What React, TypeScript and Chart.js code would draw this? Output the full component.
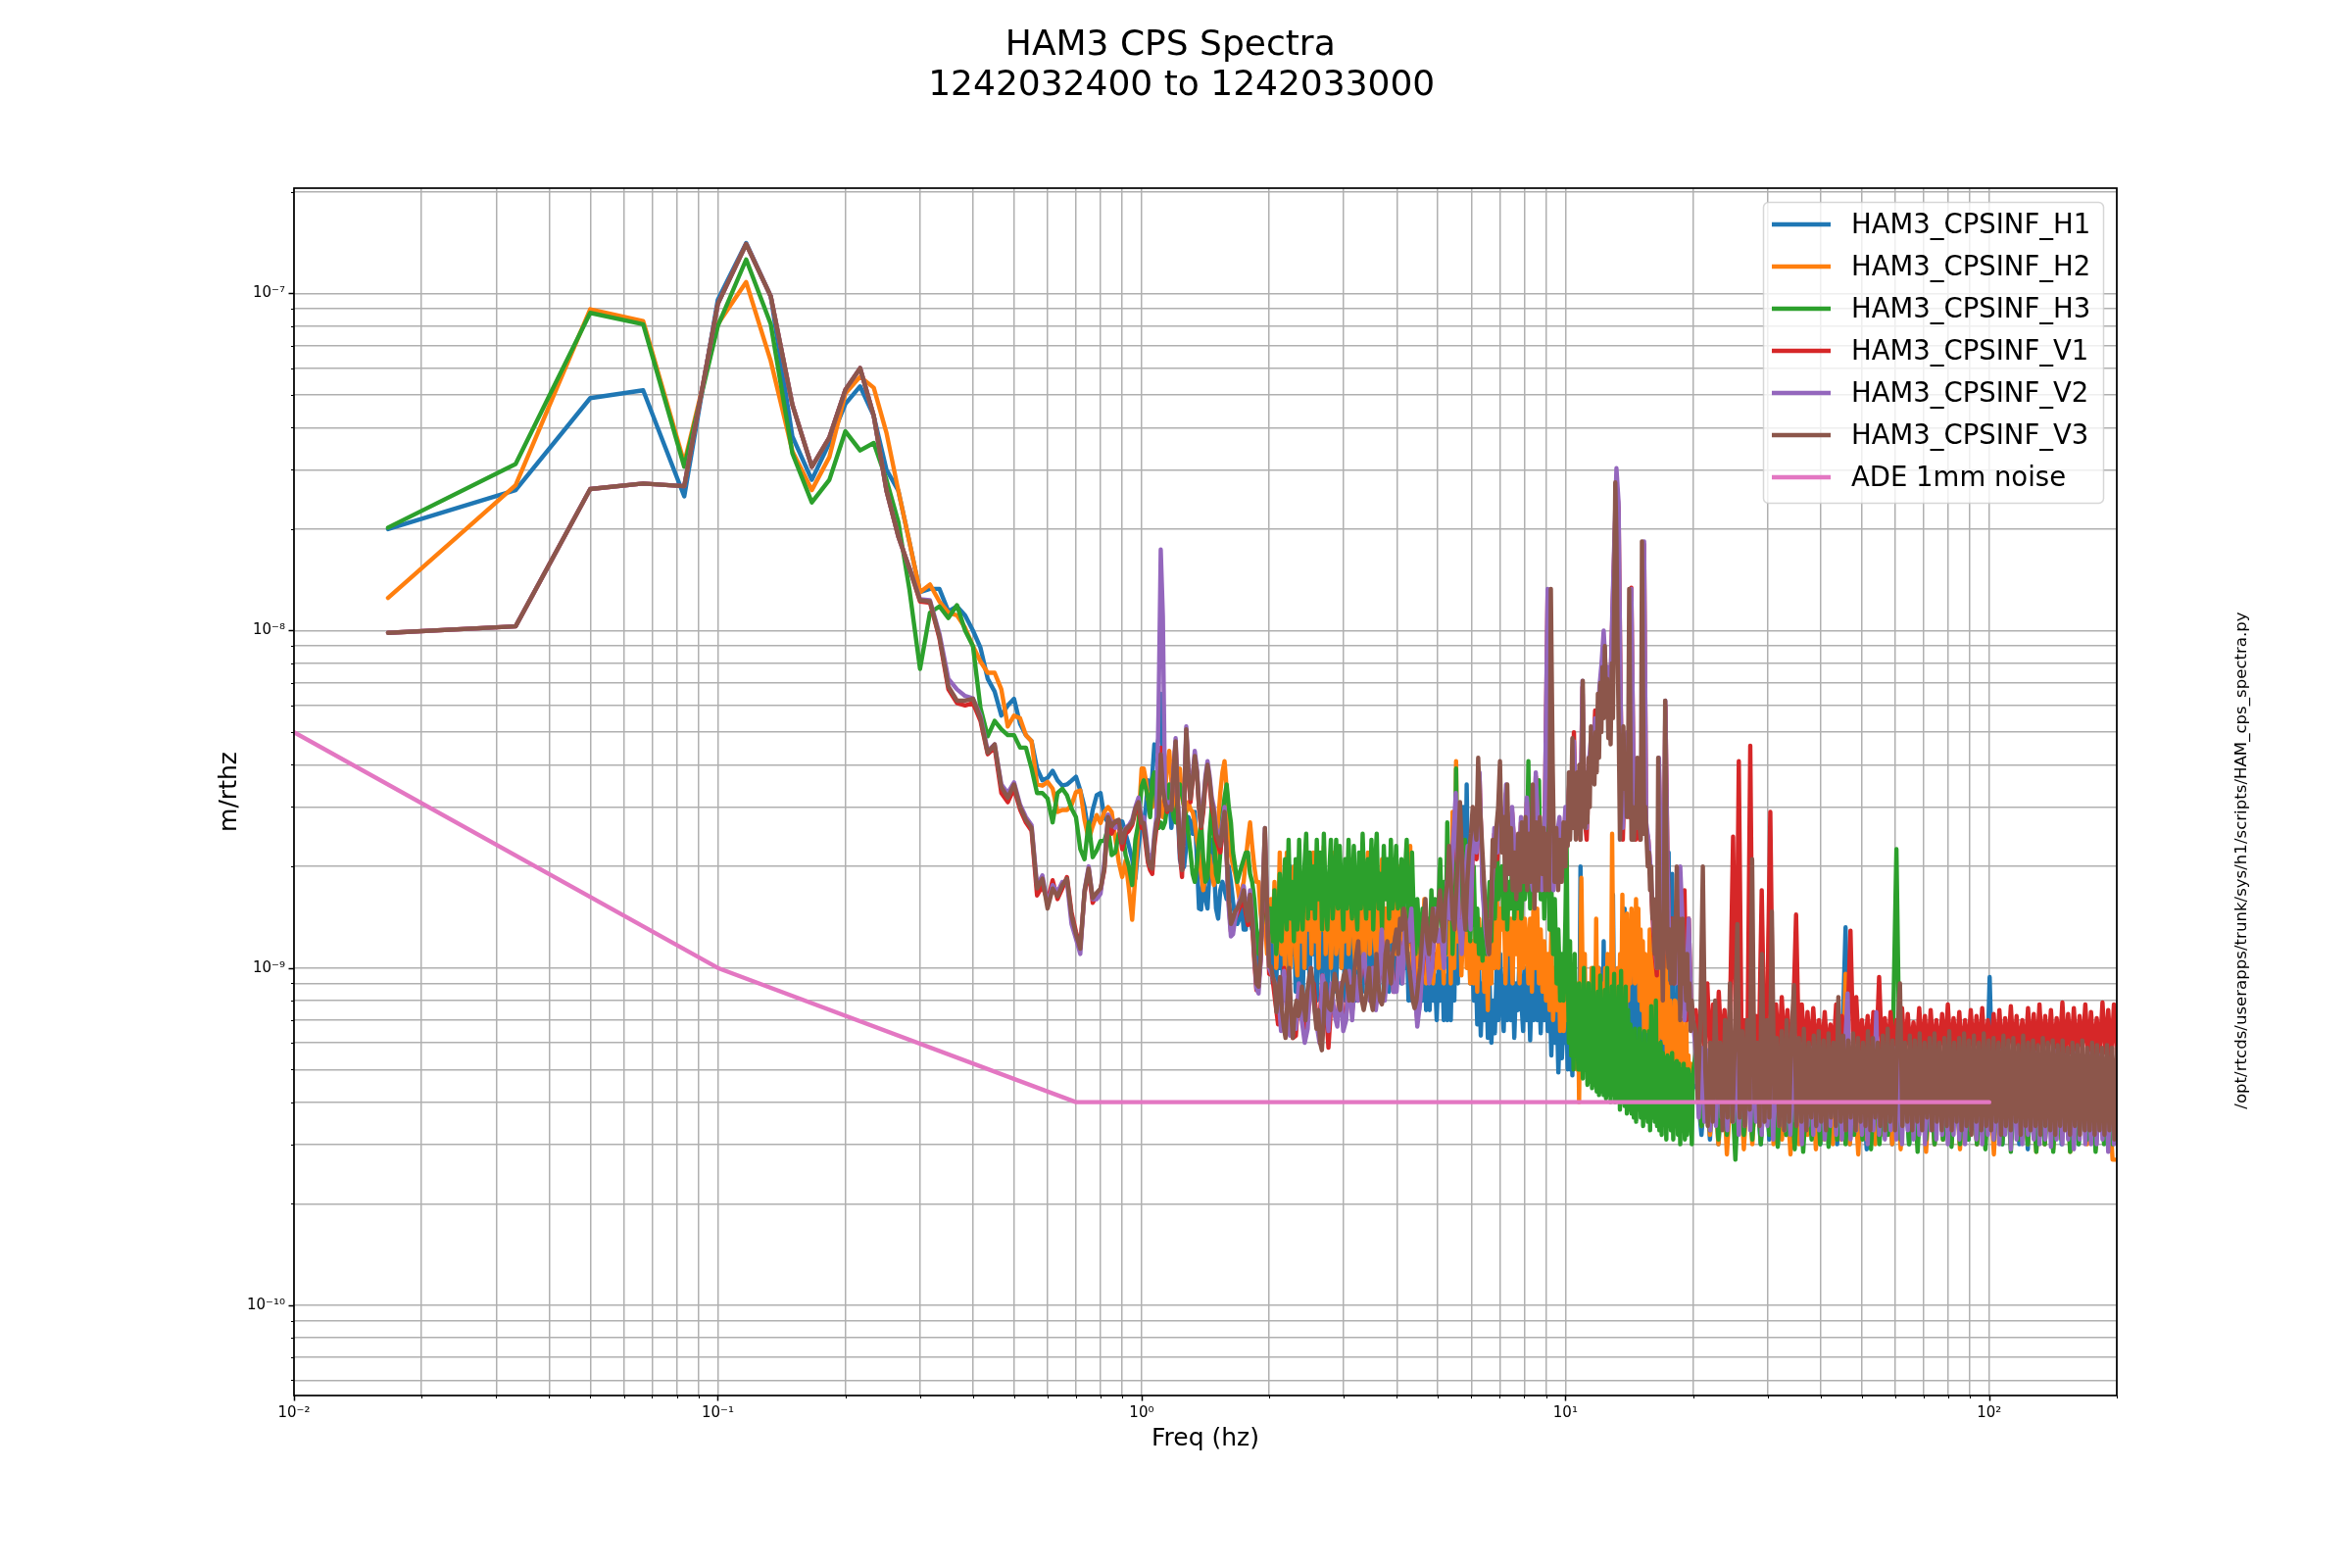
import React, { useEffect, useRef } from "react";
import { Chart, registerables } from "chart.js";

Chart.register(...registerables);

const FONT = "'DejaVu Sans'";
const UNIT = 1e-10; // all series below are in units of 1e-10 m/rthz
const BIN_HZ = 1 / 60; // the first stretch holds one value per spectrum bin

const seriesNames = ["HAM3_CPSINF_H1", "HAM3_CPSINF_H2", "HAM3_CPSINF_H3", "HAM3_CPSINF_V1", "HAM3_CPSINF_V2", "HAM3_CPSINF_V3"];
const seriesColors = ["#1f77b4", "#ff7f0e", "#2ca02c", "#d62728", "#9467bd", "#8c564b"];
const adeName = "ADE 1mm noise";
const adeColor = "#e377c2";
const adeFreq = [0.01, 0.1, 0.7, 100];
const adeVals = [50, 10, 4, 4];

const xDecades = [0.01, 0.1, 1, 10, 100];
const yDecades = [1e-11, 1e-10, 1e-9, 1e-8, 1e-7];
const mantissas = [1, 2, 3, 4, 5, 6, 7, 8, 9];
const xLabels = ["10⁻²", "10⁻¹", "10⁰", "10¹", "10²"];
const yLabels = ["10⁻¹¹", "10⁻¹⁰", "10⁻⁹", "10⁻⁸", "10⁻⁷"];

// segment A: 0 to 1 Hz, one value per bin
const h1A = [200,261,489,516,250,957,1410,980,376,280,360,470,530,433,300,260,183,130,133,133,114,118,111,100,89,72,66,56,60,62.8,53,49,47,39,36,36.6,38.4,36,34.7,35,35.9,36.9,33.6,30,25,29.4,32.5,33,28,27,26.3,26.6,27.2,27.2,25,23,21,18.4,23,27];
const h2A = [125,270,897,827,314,810,1080,630,340,261,327,505,566,525,386,260,183,130,137,122,113,111,102,90,81,75,75,67,52,56,55,49,47,35,34.7,35.6,34,29,29.4,29.4,30.4,33.2,33.6,27.5,24,26.3,28.4,26.9,29,30,29,24.3,20.6,18.6,20.8,17.2,13.9,18.8,27,39];
const h3A = [202,312,875,810,306,800,1260,810,335,240,280,390,342,360,280,210,132,77,113,118,109,119,100,90,59,48.6,54,51,49,49,45,45,39,33,33,31.8,27,33,34,32.5,29.7,28,22.5,21,27,21.3,22.3,23.8,23.8,26,21.6,22,25,25.7,21.6,20,17.6,24,27,34.5];
const v1A = [98.5,103,263,273,268,930,1400,980,467,306,374,518,600,433,260,190,153,122,121,95,67,61,60,61,54,43,45,33,31,34,29.5,27,25.5,16.4,17.5,15.8,18.2,16,17.2,18.6,14.6,12.8,11.6,16.6,19.4,15.6,16.4,17,19.5,27.5,25,26.5,26.5,22.5,25,25.5,26.5,29,30.5,26];
const v2A = [98.5,103,263,273,268,930,1400,980,467,306,374,518,600,433,260,190,153,124,123,98,72,67,64,63,56,44,46,35,33,35.5,30.5,28,26.5,17.5,18.8,15.4,17.6,16.8,18,18,13.5,12.2,11,17,20,16,16,16.6,20.5,28.5,27,26,26.5,24.5,26,26.5,27.5,30,32,27.5];
const v3A = [98.5,103,263,273,268,930,1400,980,467,306,374,518,600,433,260,190,153,123,122,96,68.4,62,62,62.8,55,43.4,46,34.4,32,35,30,27.5,26,17.2,18.4,15,17.2,16.3,17.6,18.4,14.3,12.6,11.4,16.9,19.7,16.1,16.7,17.2,19.7,28,26.3,27.2,27.5,23.5,25.7,26.3,26.9,29.7,31,26.9];

// segment B: 1 to 2 Hz
const h1B = [27,30,36,34,37,46,44,48,65,42,33,31,33,26,30,38,29,21,19.5,20,23,28,27,25,29,21,15,14.9,19,16,15,19.5,24,20,15,14,17,18,17,16,20,18,15.7,14,13.5,14,15.5,13,13,16,14,13,14,13,10,11,17,18,15,11];
const h2B = [39,36,31.6,33,30,32,36,34,30,28,33,40,44,36,29,33,37,39,32,30,29,31,29.5,29,27,24,22,19,17,19,20,21.6,19,17.6,22,27,33,38,41,34,27,21.6,20,19,17.6,16,17,18,21,24,27,23,20,18,18,14.5,13,14,11,13];
const h3B = [36,34,32,28,36,38,30,26,27,26,27,30,35,31,28,27,32,35,33,30,28,25,22,19,18,20,24,27,21,18,18.5,25,30,25,19,18,22,28,32,35,30,27,22,20,18,19,20,21,22,22,19,18,16,13,11,12.5,14,16,15.5,14];
const v1B = [26,23,20.5,19.5,19,23,26,28,45,35,31,29,30,30,38,46,30,22,18.6,29,50,37,31,36,42,38,30,26,29,35,39,35,30,28,24,23,22,25,28,21.5,15.5,12.8,13.5,14,14.5,15,15.5,16,14.5,13.4,16,13.5,10.5,8.6,9,10.5,16,25,14,9.6];
const v2B = [28,25,22,21,21,25,28,60,174,110,32,30,31,30,39,48,32,24,20,31,52,39,33,37,44,39,31,27,31,37,41,37,32,30,26,25,24,27,30,21,15,12.4,12.6,14,15,15.8,16.5,17.5,15.6,14,17,14.5,11,8.7,8.4,10.5,17,26,15,10];
const v3B = [26.9,24,21,20,19.7,24,27,28,43,34,31,29.4,30,29.4,38,47,31,23,19.5,30,51,38,31.8,36,42.5,38,30,26.3,30,36,40,36,31,29,25,24,23,26,29,22,16,13.5,14,14.7,15,15.5,16,17,15,13.8,16.5,14,11,9,8.8,11,17,26,15,10.1];

// segment C: 2 to 10 Hz
const h1C = [14,9,17,8.5,16,10,13,8,15,17,9,20,11,15,8.5,13,9,17,8,14,10,16,8.5,19,11,14,8,13,17,9,12,16,8,14,17,9,15,8.5,14,19,10,13,8,14,18,9,12,16,8,14,10,17,8.5,13,18,9,12,15,8,13,16,9,11,14,8,12,15,8.5,11,14,9,12,14,15,9,19,10,13,8,11,8,13,9,12,7.5,10,8,12,7.5,9,7.5,11,8,9.5,7,10,8,11,7,9.5,7,12,7,13,8,18,9,24,11,30,12,35,15,9,12,8,11,6.8,10,6.3,9,7,10,6.2,9,6,8,6.4,10,7,11,8,6.5,10,7,11,7,10,6.2,9,7.5,11,8,6.5,10,7,10,6.1,9,7,11,7,9,6.4,10,7,9,6.5,9,5.5,8,6,8,4.9,7,5.4,7,6];
const h2C = [16,12,18,10,13,22,11,15,9.5,22,13,10,14,20,11,9.5,21,12,18,10,20,13,19,11,22,12,16,10,20,13,23,11,15,18,10,14,22,11,13,17,10,15,12,19,11,14,21,12,10,15,11,18,13,10,16,22,11,14,18,12,10,17,13,21,11,15,10,19,12,14,18,11,16,20,12,10,15,11,13,23,10,14,9,12,8.5,13,10,16,9,12,10,13,9,11,10,12,10,13,9,15,11,22,9,29,10,41,12,17,9.5,13,19,10,15,9,12,9,13,8.5,14,10,13,8.5,12,7.5,14,9,15,10,18,10,15,13,17,9,15,11,14,9,15,11,15,9,16,10,14,12,9,14,8.5,17,10,15,9,13,8.5,12,8,11,7.5,13,7,10,7.5,11,6.5,9,6.5,8];
const h3C = [15,12,17,11,13,19,12,16,21,13,24,14,18,12,21,13,24,15,13,20,25,14,22,15,20,14,24,16,22,13,25,16,13,19,24,14,17,24,15,23,17,13,21,15,24,17,14,23,16,13,22,15,25,17,14,21,15,24,13,20,25,15,19,13,23,16,21,14,24,15,17,23,15,16,21,13,19,24,15,12,22,14,11,16,13,11,15,12,11,14,11,17,12,16,13,15,21,13,18,11,27,14,22,11,16,39,15,29,20,14,24,13,17,12,16,20,12,15,11,13,10.5,15,11,14,18,12,22,14,24,16,19,20,14,23,13,18,15,24,14,20,15,23,14,19,16,18,41,15,24,18,29,17,36,16,26,14,20,66,13,18,11,16,9,13,8,11,8,14];
const v1C = [9.5,8,6.8,7.2,10,8,7,6.2,6.3,8.5,7.2,6.4,7,9,9,7,7,9.5,8,5.8,8,7.4,7,9,7,7.2,9.6,7.4,9.2,8,9.8,10.5,9,8.2,10,8,9,12,8.4,10,11,8.5,9,12,10,13,12,14,9.5,7,8.4,10.5,12.5,9.5,10,14,12,13,10.5,17,14,22,31,14,11.5,17,22,13.5,27,21,37,18,13.5,11.5,15,25,21,29,24,33,20,29,21,18,27,20,31,21,18,37,22,18,26,130,21,18,24,27,20,29];
const v2C = [9.5,9,8.5,6.5,9.8,8,6.3,7,6.6,9,7,6,6.6,10,8,6.8,6,9.5,8.5,6.5,9,7.3,6.7,9,6.5,7,9.8,7,9.5,8,10,11,9,8,10,7.5,9,13,8,10,11,8.5,8.5,12,9,14,12,15,9,6.7,8,11,13,9,10,15,12,13,10,18,14,23,33,14,11,18,23,13,29,22,38,17,13,11,15,26,22,30,24,35,19,30,21,18,28,19,32,20,17,38,23,17,27,133,20,17,24,28,20,30];
const v3C = [10.1,9.4,9,7.4,8.5,9.4,7.5,6.7,6.2,8,10,7.5,6.2,7.4,8,7.2,7.5,8.8,8,7,8.5,9.4,10,9,7.5,6.6,7.5,6,5.7,7,9,8,7.6,7.5,8.5,9.6,9,8,7.5,8.8,9.5,9.8,9,8,8.8,8,10,11,12,9,8,7.5,8,9,10,8,7.5,8.5,11,9,8,7.8,8.5,11,12,10,9,11,12,13,11,14,13,15,14,11,10,9,8,7.6,8,9,10,12,14,16,12,11,13,15,12,13,15,17,14,12,16,18,23,18,14,13,17,23,31,22,15,13,18,22,25,30,27,24,42,30,24,19,15,12,11,14,24,20,26,30,41,22,28,17,35,19,26,17,22,16,25,17,27,18,28,17,25,18,35,15,27,17,28,19,26,17,25,17,133,40,18,26,17,24,18,27,20];

// segment D: 10 to 20 Hz
const h1D = [7,5,8,5,7,4.8,9,5.5,7,5,8,6,20,6,9,5,7,5.5,9,5,8,5.5,7,5,9,5.5,8,5,10,5.5,8,5,12,6,9,5.5,8,5,10,6,16.5,7,9,5,8,5.5,9,5.5,8,6,15,7,9,6,8,5.5,11,6,9,5.5,8,5,11,6,9,5.5,8,6,7.5,5.2,9,5.4,8,5,13,6,8,5,7,5.5,8,4.8,7,5,6.5,5,6,4.6,22,6,5,19,6,4.8,6,5,16.5,5,6,4.6,5.5,4.7,5.5,4.5,5,4.4,5,4.5,5,4.5];
const h2D = [11,7,10,6.5,9,6,10,5.5,8,5,9,4,8,18.5,10,7,11,6,9,5.5,8,6,10,5.5,9,6,14,6.5,10,6,8,5.5,9,6,10,6.5,11,7,10,7,25,10,6.5,9,5.8,10,6.5,11,7,16.5,8,11,7,14.5,8,13.5,9,15,10,14,9,16,10,15,8,13,7.5,12,6.5,11,6.5,10,7,13,6.5,11,6,10,6,9,5.6,10,7,11,6.2,12,6,13,5.5,9,5,8,5.6,7,5,8,5.2,7,6,8,4.8,7,4.6,6,5,7,4.5,5.5,4.4,5.2,4.2,5];
const h3D = [24,10,6,12,5.5,9,5,11,6,8,5,9,5,8,4.7,10,5,7.5,4.5,9,4.6,8,4.4,10,4.5,7,4.3,8.5,4.2,9.5,4.3,7.5,4.2,8.6,4.1,10,4.2,8,4,8.8,4.2,9.6,4,8,4.1,8.8,3.8,9.8,4,7.5,3.9,8.8,3.7,7.5,3.8,6.8,3.7,6.5,3.6,6.6,3.5,6,3.8,6.6,3.6,5.8,3.4,6.5,3.6,5.8,3.5,6.5,3.3,7.7,3.6,5.6,3.5,8,3.4,5.8,3.3,6,3.2,5.6,3.6,5.4,3.1,5.5,3.4,5.4,3.3,5.6,3.1,5.2,3.4,5.3,3.2,5.2,3,5,3.3,5.2,3.1,5,3.2,5,3.3,4.8,3,4.9];
const v1D = [28,37,26,50,27,37,24,68,28,24,38,44,40,58,45,65,75,92,70,72,60,105,175,275,230,62,24,40,48,28,134,38,24,32,24,40,180,26,24,19,14,11,9.5,39,19,10,60,22,11,14,9,12,19,17,8,17,7,14,8,7];
const v2D = [27,38,30,47,28,36,25,71,30,26,40,48,42,55,47,68,80,100,75,78,62,110,185,303,240,60,26,42,50,30,133,38,26,30,26,42,184,27,24,20,15,12,10,42,20,11,62,20,11,10,12,9,13,20,14,7,9,14,8,7];
const v3D = [27,23,38,24,31,48,26,35,24,38,25,40,24,32,71,30,26,38,27,42,30,52,36,46,35,50,38,65,42,70,50,78,55,90,60,72,48,60,46,80,55,120,275,190,90,50,24,30,42,52,34,40,28,36,133,50,24,30,24,28,26,42,28,26,24,184,60,25,30,24,20,22,17,20,14,16,11,12,10,42,16,10,13,8,15,62,24,12,10,13,9,11,14,9,13,20,12,14,7,10,14,9,11,8,11,7.5,9,6.5,8,7];

// segment E: 20 to 200 Hz
const h1E = [4.4,3.2,4.8,3.1,5,3,4.5,3.2,4.9,3,4.6,3.1,5,3.2,4.4,3,5.2,3.1,4.7,3,4.5,3.2,5,3,4.8,3.1,4.5,3.3,5,3,4.4,3.2,5.1,3,4.7,13.2,3,4.8,3.2,4.5,2.9,5,3.1,4.7,3.2,4.4,3,4.8,3.1,5,3,4.5,3.1,4.9,3.2,4.6,3,4.8,3.1,4.4,3.2,5,3,4.7,3.1,4.9,3,4.5,3.2,9.4,3.1,4.8,3,5,3.2,4.6,3,4.8,2.9,5,3.1,4.5,3,4.9,3.2,4.7,3,4.8,3.1,4.5,3,5,3.2,4.7,3,4.8,3.1,4.6,3,4.9];
const h2E = [5.5,3.4,5,3.2,4.8,3,5.2,2.8,4.6,3.1,5,2.9,4.8,3,5,3.1,4.6,14.2,3,5,3.1,4.7,2.8,4.9,3,4.6,3.2,5,2.9,4.8,3.1,4.5,3,4.9,3.1,9.6,3,4.6,2.8,5,3.1,4.7,3,4.5,3.2,4.9,3,4.6,2.9,5,3.2,4.4,3.1,4.8,2.85,4.7,3,5,3.1,4.5,3,4.8,2.9,5,3.2,4.6,3,4.8,3.1,4.5,2.8,5,3.1,4.7,3,4.9,3.2,4.5,3,4.8,2.85,5,3,4.6,2.9,4.8,3.1,5,2.85,4.5,3.1,4.9,3,4.7,2.9,4.8,3.1,4.6,2.7,2.7];
const h3E = [6,3.4,5.5,3.3,5.4,3.1,5.5,3.2,5,2.7,5.2,3.2,4.8,3.1,5,3,4.7,3.2,5,2.95,4.9,3.2,4.8,2.9,5,2.85,4.6,3.1,5,3,4.7,2.95,4.8,3.1,4.9,3,4.6,3.2,4.8,3.1,4.7,2.9,4.9,3,4.6,3.2,4.8,22.5,3.1,4.6,3,4.9,2.85,4.8,3.1,4.6,3,4.9,3.1,4.7,2.95,4.8,3,4.6,3.1,4.9,3,4.7,2.9,4.8,3.1,4.6,3,4.9,2.85,4.7,3.1,4.8,3,4.6,2.85,4.9,3,4.7,2.85,4.8,3.1,4.6,2.85,4.9,3,4.7,3.1,4.8,2.85,4.6,3,4.9,3,4.7];
const v1E = [7.5,5.5,8,5.6,9,5.5,7.8,5.4,8.5,5.6,7.5,5.5,8,24.5,5.5,41,5.6,7,5.5,45.6,5.4,7.2,5.5,17,5.6,8,29,5.6,7.8,5.5,8.2,5.6,7.5,5.5,7.2,14.4,5.6,7.8,5.6,7.4,5.5,7.6,5.6,7,5.6,7.4,5.5,6.8,5.6,7.8,5.5,7.2,5.6,7,12.9,5.6,8.2,5.5,7,5.6,7.2,5.4,7.4,5.6,9.4,5.5,7.1,5.6,7.4,5.5,7,5.6,7.6,5.5,7.3,5.6,6.9,5.5,7.6,5.6,7.2,5.4,7.5,5.6,7,5.5,7.3,5.6,7.8,5.5,7.1,5.6,7.4,5.4,7,5.6,7.5,5.5,7.2,5.6,7.6,5.5,7,5.6,7.3,5.5,7.5,5.4,7.1,5.6,7.7,5.5,7.2,5.6,7,5.5,7.6,5.6,7.3,5.4,7.8,5.5,7.2,5.6,7.5,5.5,7.1,5.6,7.9,5.5,7.3,5.6,7.6,5.4,7.2,5.6,7.8,5.5,7.4,5.6,7.1,5.5,7.9,5.6,7.5,5.5,7.8,5.6];
const v2E = [5.6,3.6,5.8,3.5,5.7,3.3,5.4,3.4,5.8,3.6,5.5,3.3,5.8,3.5,5.6,3.2,5.9,3.4,5.4,3.3,5.6,3.5,5.8,3.2,5.7,3.4,5.6,3.1,5.8,3.4,5.5,3.3,5.4,3.2,5.7,3.5,5.6,3,5.4,3.4,5.8,3.2,5.5,3.3,5.6,3.1,5.4,3.4,5.8,3.2,5.5,3.1,5.6,8.4,3.1,5.4,3.3,5.6,3.2,5.5,3,5.6,3.3,7.4,3.2,5.5,3.1,5.4,3.3,5.8,3.1,5.6,3,5.4,3.3,5.7,3.1,5.5,3.2,5.6,3,5.4,3.3,5.8,3.1,5.5,3.2,5.4,3,5.7,3.2,5.5,3.1,5.6,3,5.4,3.3,5.7,3.1,5.3,3,5.6,3.2,5.5,3.1,5.4,3,5.7,3.2,5.5,2.9,5.6,3.1,5.4,3,5.6,3.2,5.3,3.1,5.6,3,5.5,3.1,5.4,2.95,5.7,3.1,5.3,3,5.5,3.1,5.4,2.9,5.6,3.1,5.3,3,5.6,3,5.2,3,5.5,3.1,5.3,2.85,5.4,3,5.2];
const v3E = [6.5,4,7,20,5,3.4,6,3.5,8,4,6,3.3,7,3.6,9,3.5,6,13.5,3.6,6.5,3.4,7,3.8,21,4,6,3.4,11,3.5,7,3.6,14.7,4,6.2,3.4,6.5,3.3,7,3.5,6.4,8.9,3.4,6.2,3.5,6.6,3.3,6,3.6,6.3,3.4,6.5,3.5,6.1,3.3,6.4,3.6,6,3.4,8.2,3.5,6.3,3.3,6.1,3.6,6.4,3.3,6.2,3.5,6,3.4,6.5,3.3,6.2,3.6,6,3.4,6.3,3.3,6.6,3.5,6.1,3.3,6.3,9,3.4,6,3.5,6.3,3.3,6.1,3.5,6.4,3.3,6,3.6,6.2,3.3,6.4,3.5,6,3.3,6.2,3.4,6.5,3.3,6,3.5,6.2,3.3,6.4,3.4,6.1,3.2,6.3,3.5,6,3.3,6.4,3.4,6.1,3.3,6.2,3.5,6,3.2,6.3,3.4,6.1,3.3,6.2,3.5,5.9,3.2,6.3,3.4,6,3.3,6.1,3.4,5.9,3.2,6.2,3.4,6,3.3,6.1,3.2,5.9,3.4,6.1,3.3,5.8,3.2,6,3.4,5.9,3.2,6.1,3.3,5.8,3.3,6,3.2,5.9,3.3,5.8,3.2,5.9,3.3,5.8,3.1,5.8];

const segments = [
  [h1A, h1B, h1C, h1D, h1E],
  [h2A, h2B, h2C, h2D, h2E],
  [h3A, h3B, h3C, h3D, h3E],
  [v1A, v1B, v1C, v1D, v1E],
  [v2A, v2B, v2C, v2D, v2E],
  [v3A, v3B, v3C, v3D, v3E],
];
const segmentEdgesHz = [1, 2, 10, 20, 200];

// Frequency axis of a series: one value per bin up to 1 Hz, then the kept samples of each band.
function toPoints(parts: number[][]) {
  const pts: { x: number; y: number }[] = [];
  parts[0].forEach((v, i) => pts.push({ x: (i + 1) * BIN_HZ, y: v * UNIT }));
  for (let s = 1; s < parts.length; s++) {
    const lo = segmentEdgesHz[s - 1];
    const hi = segmentEdgesHz[s];
    const n = parts[s].length;
    parts[s].forEach((v, i) => pts.push({ x: lo * Math.pow(hi / lo, (i + 1) / n), y: v * UNIT }));
  }
  return pts;
}

const sideNote = "/opt/rtcds/userapps/trunk/sys/h1/scripts/HAM_cps_spectra.py";

const frame = {
  id: "frame",
  afterLayout(chart: any) {
    // the figure title is centred on the whole figure, not on the axes column
    if (chart.titleBlock) chart.titleBlock.right = chart.width;
  },
  afterDatasetsDraw(chart: any) {
    const { ctx, chartArea: a, scales } = chart;
    ctx.save();
    ctx.strokeStyle = "#000";
    // tick marks
    for (const t of scales.x.ticks) {
      const x = Math.round(scales.x.getPixelForValue(t.value)) + 0.5;
      ctx.lineWidth = t.label ? 1.5 : 1;
      ctx.beginPath();
      ctx.moveTo(x, a.bottom);
      ctx.lineTo(x, a.bottom + (t.label ? 5.5 : 3));
      ctx.stroke();
    }
    for (const t of scales.y.ticks) {
      const y = Math.round(scales.y.getPixelForValue(t.value)) + 0.5;
      ctx.lineWidth = t.label ? 1.5 : 1;
      ctx.beginPath();
      ctx.moveTo(a.left, y);
      ctx.lineTo(a.left - (t.label ? 5.5 : 3), y);
      ctx.stroke();
    }
    // axes frame
    ctx.lineWidth = 1.7;
    ctx.strokeRect(a.left, a.top, a.right - a.left, a.bottom - a.top);
    // legend
    const box = { l: 1799.5, t: 206.5, w: 347, h: 307 };
    ctx.beginPath();
    ctx.roundRect(box.l, box.t, box.w, box.h, 5);
    ctx.fillStyle = "rgba(255,255,255,0.8)";
    ctx.fill();
    ctx.lineWidth = 1.5;
    ctx.strokeStyle = "rgba(204,204,204,0.8)";
    ctx.stroke();
    ctx.font = `27.5px ${FONT}`;
    ctx.textBaseline = "middle";
    ctx.textAlign = "left";
    chart.data.datasets.forEach((d: any, i: number) => {
      const y = 229 + i * 43;
      ctx.strokeStyle = d.borderColor;
      ctx.lineWidth = 4.4;
      ctx.beginPath();
      ctx.moveTo(1808, y);
      ctx.lineTo(1868, y);
      ctx.stroke();
      ctx.fillStyle = "#000";
      ctx.fillText(d.label, 1889, y + 2);
    });
    // script path at the right of the figure
    ctx.translate(2288, 878);
    ctx.rotate(-Math.PI / 2);
    ctx.font = `16.6px ${FONT}`;
    ctx.textAlign = "center";
    ctx.fillStyle = "#000";
    ctx.fillText(sideNote, 0, 0);
    ctx.restore();
  },
};

function logTicks(decades: number[], min: number, max: number) {
  const out: { value: number; major: boolean }[] = [];
  for (const d of decades) {
    for (const m of mantissas) {
      const value = d * m;
      if (value >= min * 0.9999 && value <= max * 1.0001) out.push({ value, major: m === 1 });
    }
  }
  return out;
}

function labelFor(decades: number[], labels: string[]) {
  return (v: number) => {
    const i = decades.findIndex((d) => Math.abs(v / d - 1) < 1e-6);
    return i >= 0 ? labels[i] : "";
  };
}

const X_MIN = 0.01, X_MAX = 200, Y_MIN = 5.4e-11, Y_MAX = 2.05e-7;

export default function App() {
  const ref = useRef<HTMLCanvasElement>(null);
  useEffect(() => {
    const datasets: any[] = segments.map((parts, i) => ({
      label: seriesNames[i],
      data: toPoints(parts),
      borderColor: seriesColors[i],
      order: 7 - i,
    }));
    datasets.push({
      label: adeName,
      data: adeFreq.map((x, i) => ({ x, y: adeVals[i] * UNIT })),
      borderColor: adeColor,
      order: 1,
    });
    datasets.forEach((d) => {
      d.borderWidth = 4.4;
      d.pointRadius = 0;
      d.tension = 0;
      d.fill = false;
      d.borderJoinStyle = "round";
      d.borderCapStyle = "round";
      d.clip = 0;
    });
    const grid = { color: "#b0b0b0", lineWidth: 1.5, drawTicks: false };
    const chart = new Chart(ref.current as HTMLCanvasElement, {
      type: "line",
      data: { datasets },
      plugins: [frame],
      options: {
        animation: false,
        responsive: false,
        devicePixelRatio: 1,
        layout: { padding: { right: 240 } },
        plugins: {
          legend: { display: false },
          tooltip: { enabled: false },
          title: {
            display: true,
            text: ["HAM3 CPS Spectra ", " 1242032400 to 1242033000"],
            color: "#000",
            font: { family: FONT, size: 36, weight: "normal", lineHeight: 41 / 36 },
            padding: { top: 26, bottom: 84 },
          },
        },
        scales: {
          x: {
            type: "logarithmic",
            min: X_MIN,
            max: X_MAX,
            grid,
            border: { display: false },
            afterBuildTicks: (s: any) => { s.ticks = logTicks(xDecades, X_MIN, X_MAX); },
            afterFit: (s: any) => { s.height = 176; },
            ticks: {
              autoSkip: false,
              maxRotation: 0,
              padding: 9,
              color: "#000",
              font: { family: FONT, size: 15 },
              callback: labelFor(xDecades, xLabels),
            },
            title: { display: true, text: "Freq (hz)", color: "#000", font: { family: FONT, size: 25 }, padding: { top: 0, bottom: 117 } },
          },
          y: {
            type: "logarithmic",
            min: Y_MIN,
            max: Y_MAX,
            grid,
            border: { display: false },
            afterBuildTicks: (s: any) => { s.ticks = logTicks(yDecades, Y_MIN, Y_MAX); },
            afterFit: (s: any) => { s.width = 300; },
            ticks: {
              autoSkip: false,
              padding: 9,
              color: "#000",
              font: { family: FONT, size: 15 },
              callback: labelFor(yDecades, yLabels),
            },
            title: { display: true, text: "m/rthz", color: "#000", font: { family: FONT, size: 25 }, padding: { top: 219, bottom: 0 } },
          },
        },
      } as any,
    });
    return () => chart.destroy();
  }, []);
  return (
    <div style={{ position: "absolute", left: 0, top: 0, width: 2400, height: 1600, background: "#fff" }}>
      <canvas ref={ref} width={2400} height={1600} style={{ display: "block" }} />
    </div>
  );
}
